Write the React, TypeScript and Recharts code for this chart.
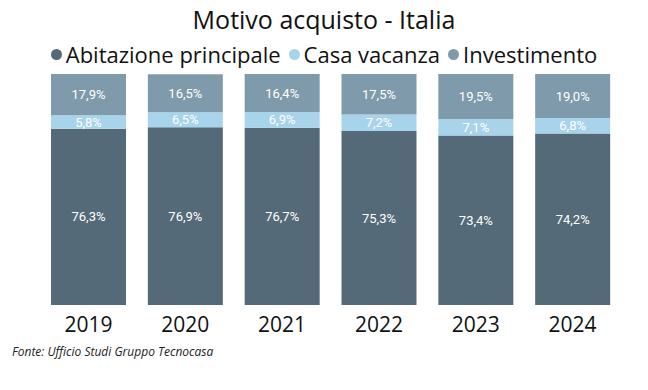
import React from "react";
import { BarChart, Bar, XAxis, YAxis, LabelList } from "recharts";

const years = ["2019", "2020", "2021", "2022", "2023", "2024"];
const abitazione = [76.3, 76.9, 76.7, 75.3, 73.4, 74.2];
const vacanza = [5.8, 6.5, 6.9, 7.2, 7.1, 6.8];
const investimento = [17.9, 16.5, 16.4, 17.5, 19.5, 19.0];

const series = [
  { key: "abitazione", name: "Abitazione principale", color: "#556a78" },
  { key: "vacanza", name: "Casa vacanza", color: "#a8d4eb" },
  { key: "investimento", name: "Investimento", color: "#7f9bab" },
];

const data = years.map((y, i) => ({
  year: y,
  abitazione: abitazione[i],
  vacanza: vacanza[i],
  investimento: investimento[i],
}));

const fmt = (v: any) => `${Number(v).toFixed(1).replace(".", ",")}%`;

const font = "'Open Sans', 'Noto Sans', sans-serif";

export default function App() {
  return (
    <div
      style={{
        position: "absolute",
        top: 0,
        left: 0,
        width: 648,
        height: 390,
        background: "#fff",
        fontFamily: font,
      }}
    >
      <div
        style={{
          position: "absolute",
          top: 2,
          width: 648,
          textAlign: "center",
          fontSize: 25,
          color: "#111",
        }}
      >
        Motivo acquisto - Italia
      </div>
      <div
        style={{
          position: "absolute",
          top: 39,
          width: 648,
          display: "flex",
          justifyContent: "center",
          alignItems: "center",
          fontSize: 22,
          color: "#111",
          gap: 8,
        }}
      >
        {series.map((s) => (
          <span key={s.key} style={{ display: "flex", alignItems: "center" }}>
            <span
              style={{
                display: "inline-block",
                width: 11,
                height: 11,
                borderRadius: "50%",
                background: s.color,
                marginRight: 4,
              }}
            />
            {s.name}
          </span>
        ))}
      </div>
      <BarChart
        width={648}
        height={390}
        data={data}
        margin={{ top: 74, right: 27, bottom: 55, left: 40 }}
        barSize={75}
      >
        <XAxis
          dataKey="year"
          axisLine={false}
          tickLine={false}
          height={30}
          tick={{ fill: "#111", fontSize: 21, fontFamily: font }}
          dy={4}
        />
        <YAxis hide domain={[0, 100]} allowDataOverflow />
        {series.map((s) => (
          <Bar
            key={s.key}
            dataKey={s.key}
            name={s.name}
            stackId="a"
            fill={s.color}
            isAnimationActive={false}
          >
            <LabelList
              dataKey={s.key}
              position="center"
              formatter={fmt}
              fill="#fff"
              fontSize={13}
              fontFamily="Roboto, sans-serif"
            />
          </Bar>
        ))}
      </BarChart>
      <div
        style={{
          position: "absolute",
          left: 12,
          top: 343,
          fontSize: 12,
          fontStyle: "italic",
          color: "#222",
        }}
      >
        Fonte: Ufficio Studi Gruppo Tecnocasa
      </div>
    </div>
  );
}
